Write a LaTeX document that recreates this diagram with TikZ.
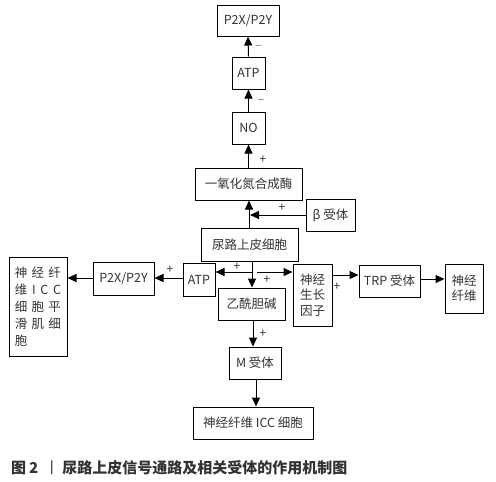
\documentclass[tikz,border=0pt]{standalone}
\usepackage{fontspec}
\setmainfont{Noto Sans CJK SC}
\usetikzlibrary{arrows.meta,calc}
\definecolor{txt}{HTML}{333333}
\begin{document}
\begin{tikzpicture}[x=1pt,y=-1pt,
  bx/.style={draw,line width=1pt,inner sep=0pt,text=txt,align=center,
    font=\fontsize{12.5}{15.5}\selectfont},
  arr/.style={line width=1pt,-{Triangle[length=9pt,width=8pt]}},
  pl/.style={text=txt,font=\fontsize{12}{12}\selectfont,inner sep=0pt},
  mi/.style={text=gray,font=\fontsize{12}{12}\selectfont,inner sep=0pt}]
\useasboundingbox (0,0) rectangle (496,482);
% nodes
\node[bx,minimum width=62pt,minimum height=31pt] (p2xt) at (248,20.5) {P2X/P2Y};
\node[bx,minimum width=33pt,minimum height=32pt] (atp1) at (248.5,73) {ATP};
\node[bx,minimum width=33pt,minimum height=32pt] (no) at (248.5,128) {NO};
\node[bx,minimum width=107pt,minimum height=32pt] (nos) at (248.5,184) {一氧化氮合成酶};
\node[bx,minimum width=49pt,minimum height=32pt] (beta) at (330.5,215) {β 受体};
\node[bx,minimum width=97pt,minimum height=33pt] (uro) at (249.5,244.5) {尿路上皮细胞};
\node[bx,minimum width=32pt,minimum height=33pt] (atp2) at (199,279.5) {ATP};
\node[bx,minimum width=67pt,minimum height=32pt] (ach) at (251.5,304) {乙酰胆碱};
\node[bx,minimum width=39pt,minimum height=62pt] (ngf) at (312.5,295) {神经\\生长\\因子};
\node[bx,minimum width=61pt,minimum height=32pt] (trp) at (389.5,281) {TRP 受体};
\node[bx,minimum width=38pt,minimum height=49pt] (nf) at (464,288.5) {神经\\纤维};
\node[bx,minimum width=52pt,minimum height=32pt] (m) at (255,363) {M 受体};
\node[bx,minimum width=120pt,minimum height=32pt] (icc) at (253,423) {神经纤维 ICC 细胞};
\node[bx,minimum width=61pt,minimum height=33pt] (p2xl) at (123.5,278.5) {P2X/P2Y};
\node[bx,minimum width=58pt,minimum height=99pt,align=left,
  font=\fontsize{12.5}{17}\selectfont] (smc) at (38,306.5)
  {\makebox[46pt][s]{神\hfill 经\hfill 纤}\\
   \makebox[46pt][s]{维\hfill I\hfill C\hfill C}\\
   \makebox[46pt][s]{细\hfill 胞\hfill 平}\\
   \makebox[46pt][s]{滑\hfill 肌\hfill 细}\\
   \makebox[46pt][l]{胞}};
% vertical chain
\draw[arr] (atp1.north) -- (p2xt.south);
\draw[arr] (no.north) -- (atp1.south);
\draw[arr] (nos.north -| no) -- (no.south);
\coordinate (u1) at (249,228);
\draw[arr] (u1) -- (u1 |- nos.south);
\coordinate (bt) at (250,215);
\draw[arr] (beta.west) -- (bt);
% from urothelial cell
\coordinate (u2) at (252,261);
\draw[arr] (u2) -- (u2 |- ach.north);
\coordinate (j1) at (252,272);
\draw[arr] (j1) -- (j1 -| atp2.east);
\coordinate (j2) at (257,272);
\draw[arr] (j2) -- (j2 -| ngf.west);
\coordinate (r1) at (332,275);
\draw[arr] (r1) -- (r1 -| trp.west);
\coordinate (r2) at (420,279);
\draw[arr] (r2) -- (r2 -| nf.west);
\coordinate (a1) at (253,320);
\draw[arr] (a1) -- (a1 |- m.north);
\coordinate (m1) at (256,379);
\draw[arr] (m1) -- (m1 |- icc.north);
\coordinate (l1) at (183,278);
\draw[arr] (l1) -- (l1 -| p2xl.east);
\coordinate (l2) at (93,278);
\draw[arr] (l2) -- (l2 -| smc.east);
% signs
\node[mi] (s1) at (258.5,48) {−};
\node[mi] (s2) at (261,102) {−};
\node[pl] (s3) at (263,160) {+};
\node[pl] (s4) at (282,208) {+};
\node[pl] (s5) at (237,267) {+};
\node[pl] (s6) at (267,280) {+};
\node[pl] (s7) at (337,287) {+};
\node[pl] (s8) at (170,270) {+};
\node[pl] (s9) at (263,334) {+};
% caption
\node[anchor=west,inner sep=0pt,text=txt,font=\fontsize{15}{15}\selectfont\bfseries] (cap) at (11,468)
  {图\hspace{3pt}2\hspace{6pt}{\mdseries 丨}\hspace{3pt}尿路上皮信号通路及相关受体的作用机制图};
\end{tikzpicture}
\end{document}
